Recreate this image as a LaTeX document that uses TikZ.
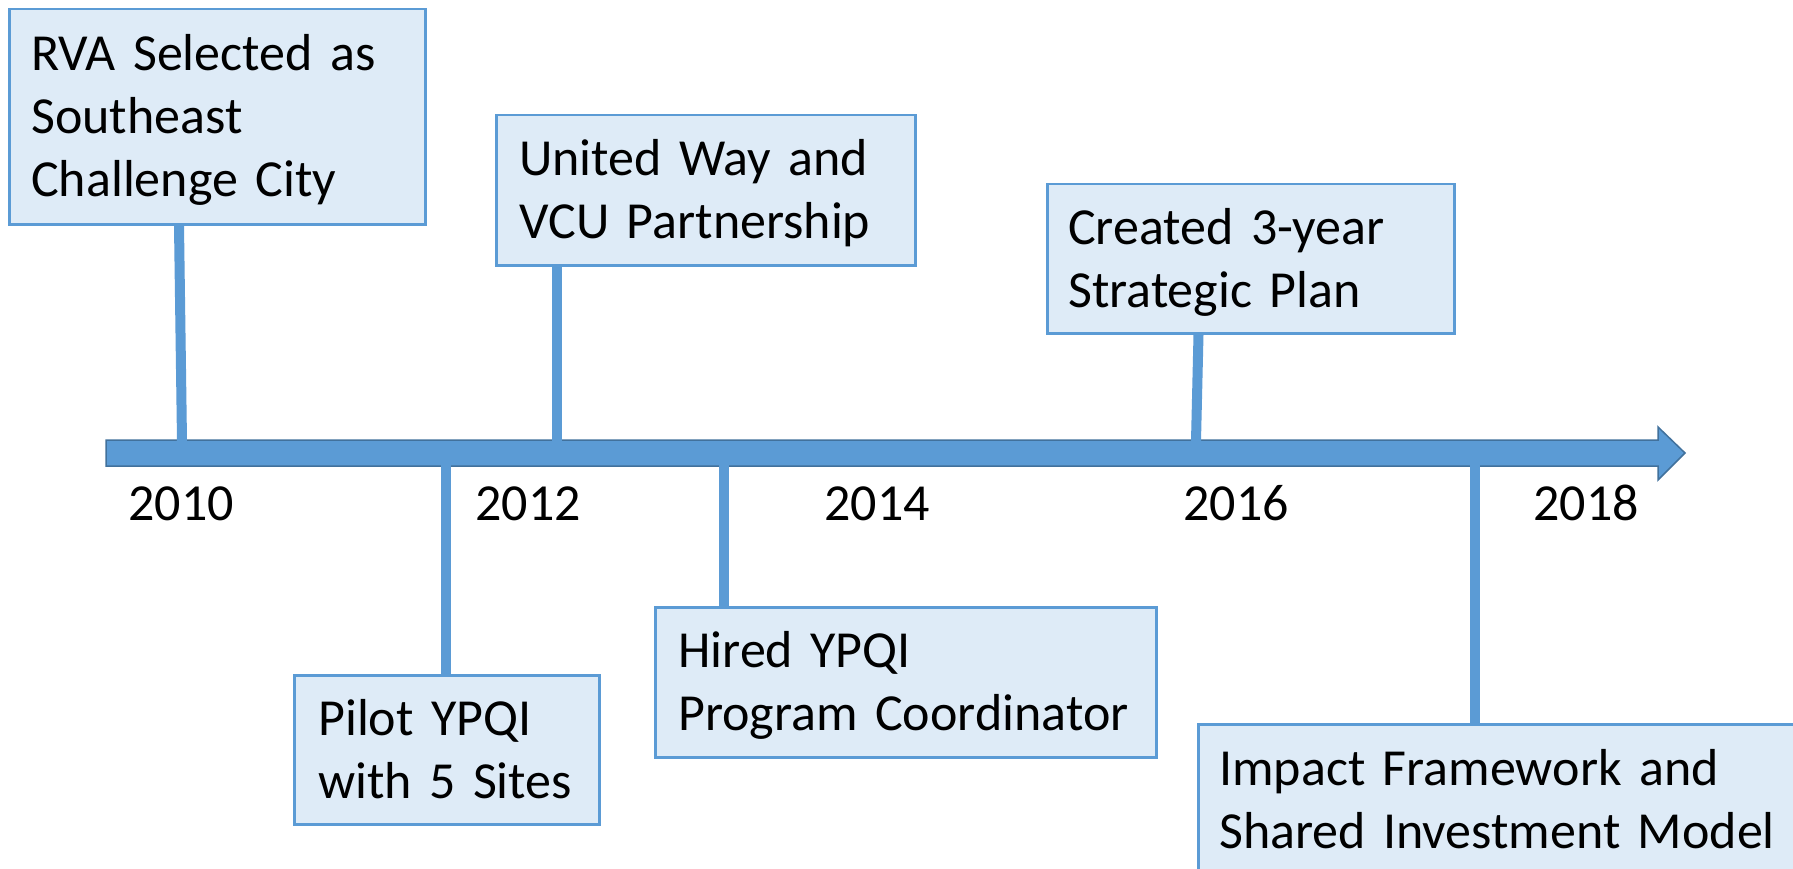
\documentclass[tikz,border=0pt]{standalone}
\usepackage{fontspec}
\setmainfont[WordSpace=0.8]{Carlito}
\definecolor{boxfill}{HTML}{DEEBF7}
\definecolor{mainblue}{HTML}{5B9BD5}
\definecolor{darkblue}{HTML}{41719C}
\begin{document}
\begin{tikzpicture}[x=1pt,y=-1pt,
  eventbox/.style={draw=mainblue, fill=boxfill, line width=2.5pt, rectangle,
    anchor=north west, align=left, inner ysep=0pt,
    font=\fontsize{52}{63}\selectfont},
  stem/.style={draw=mainblue, line width=10pt},
  timeline/.style={fill=mainblue, draw=darkblue, line width=1.5pt, line join=miter},
  yearlabel/.style={anchor=base, inner sep=0pt, font=\fontsize{52}{63}\selectfont}]
\useasboundingbox (0,0) rectangle (1793,869);
\clip (0,0) rectangle (1793,869);
\fill[white] (0,0) rectangle (1793,869);

% timeline arrow
\draw[timeline] (106,440) -- (1658,440) -- (1658,427) -- (1685,453) -- (1658,480) -- (1658,466) -- (106,466) -- cycle;

% points on the timeline
\coordinate (t1) at (182,441);
\coordinate (t2) at (446,465);
\coordinate (t3) at (557,441);
\coordinate (t4) at (724,465);
\coordinate (t5) at (1196,441);
\coordinate (t6) at (1475,465);

% event boxes
\node[eventbox, inner xsep=22pt, text width=372pt, minimum height=215pt] (b1) at (8,8)
  {\rule{0pt}{33.5pt}\smash{RVA Selected as}\\\smash{Southeast}\\\smash{Challenge City}};
\node[eventbox, inner xsep=24pt, text width=257pt, minimum height=149pt] (b2) at (293,674)
  {\rule{0pt}{33.5pt}\smash{Pilot YPQI}\\\smash{with 5 Sites}};
\node[eventbox, inner xsep=23pt, text width=373pt, minimum height=150pt] (b3) at (495,114)
  {\rule{0pt}{33.5pt}\smash{United Way and}\\\smash{VCU Partnership}};
\node[eventbox, inner xsep=23pt, text width=455pt, minimum height=150pt] (b4) at (654,606)
  {\rule{0pt}{33.5pt}\smash{Hired YPQI}\\\smash{Program Coordinator}};
\node[eventbox, inner xsep=21pt, text width=365pt, minimum height=149pt] (b5) at (1046,183)
  {\rule{0pt}{33.5pt}\smash{Created 3-year}\\\smash{Strategic Plan}};
\node[eventbox, inner xsep=21pt, text width=598pt, minimum height=151pt] (b6) at (1197,723)
  {\rule{0pt}{33.5pt}\smash{Impact Framework and}\\\smash{Shared Investment Model}};

% stems
\draw[stem] ([xshift=171pt]b1.south west) -- (t1);
\draw[stem] (t2) -- ([xshift=153pt]b2.north west);
\draw[stem] ([xshift=62pt]b3.south west) -- (t3);
\draw[stem] (t4) -- ([xshift=70pt]b4.north west);
\draw[stem] ([xshift=152.5pt]b5.south west) -- (t5);
\draw[stem] (t6) -- ([xshift=278pt]b6.north west);

% years
\node[yearlabel] (y2010) at (181,520) {2010};
\node[yearlabel] (y2012) at (528,520) {2012};
\node[yearlabel] (y2014) at (877,520) {2014};
\node[yearlabel] (y2016) at (1236,520) {2016};
\node[yearlabel] (y2018) at (1586,520) {2018};
\end{tikzpicture}
\end{document}
